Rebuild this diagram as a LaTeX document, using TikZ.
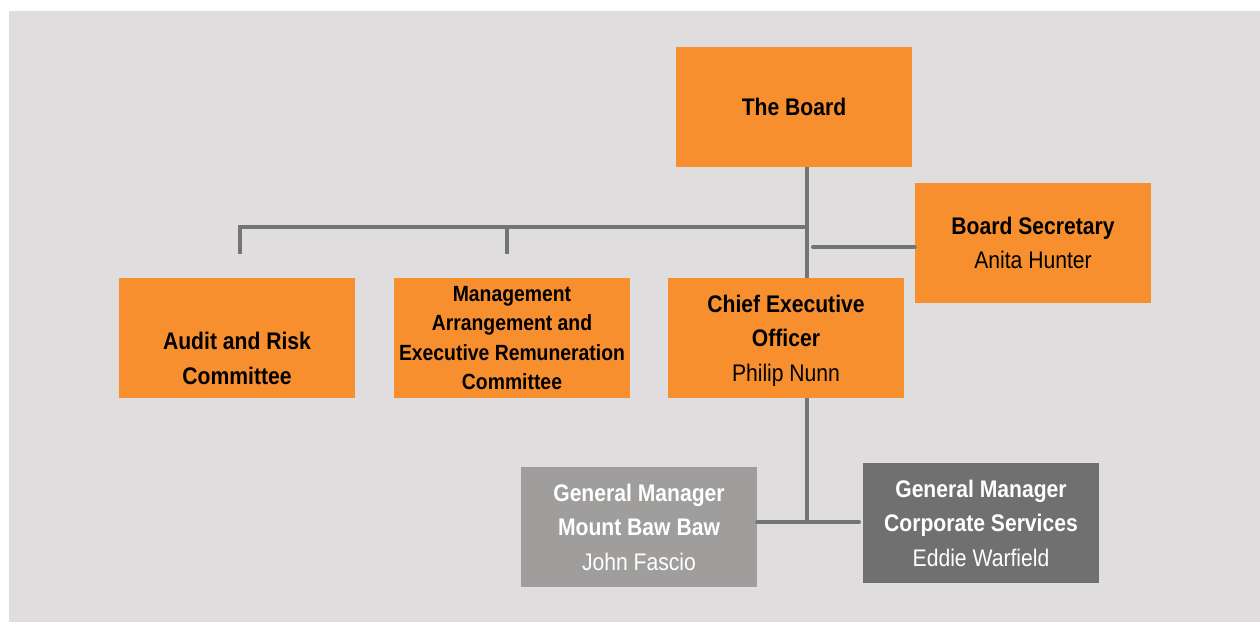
\documentclass[tikz,border=0pt]{standalone}
\usepackage{fontspec}
\setmainfont{Liberation Sans}[FakeStretch=0.88]
\definecolor{bgc}{HTML}{DFDDDE}
\definecolor{org}{HTML}{F78F2E}
\definecolor{lnc}{HTML}{747474}
\definecolor{gmA}{HTML}{9F9E9D}
\definecolor{gmB}{HTML}{717070}
\begin{document}
\begin{tikzpicture}[x=1pt,y=-1pt,
  box/.style={rectangle,inner sep=0pt,minimum width=236pt,minimum height=120pt,align=center},
  obox/.style={box,fill=org,text=black},
  big/.style={font=\fontsize{24}{34.5}\selectfont},
  small/.style={font=\fontsize{22}{29.3}\selectfont},
  conn/.style={draw=lnc,line width=4pt}]
\useasboundingbox (0,0) rectangle (1260,622);
\fill[bgc] (9,11) rectangle (1260,622);

\node[obox,big] (board) at (794,107) {\bfseries The Board};
\node[obox,big] (sec) at (1033,243) {\bfseries Board Secretary\\Anita Hunter};
\node[obox,big] (audit) at (237,338) {\strut\\\bfseries Audit and Risk\\\bfseries Committee};
\node[obox,small] (mgmt) at (512,338) {\bfseries Management\\\bfseries Arrangement and\\\bfseries Executive Remuneration\\\bfseries Committee};
\node[obox,big,text depth=0pt] (ceo) at (786,338) {\bfseries Chief Executive\\\bfseries Officer\\Philip Nunn};
\node[box,big,fill=gmA,text=white] (gm1) at (639,527) {\bfseries General Manager\\\bfseries Mount Baw Baw\\John Fascio};
\node[box,big,fill=gmB,text=white] (gm2) at (981,523) {\bfseries General Manager\\\bfseries Corporate Services\\Eddie Warfield};

\coordinate (j1) at (807,227);
\coordinate (d1) at (240,254);
\coordinate (d2) at (507,254);
\coordinate (js) at (813,247);
\coordinate (j2) at (807,522);
\coordinate (jr) at (859,522);

\draw[conn] (board.south -| j1) -- (ceo.north -| j1);
\draw[conn] (j1) -- (d1 |- j1) -- (d1);
\draw[conn] (d2 |- j1) -- (d2);
\draw[conn,line cap=round] (js) -- (sec.west |- js);
\draw[conn] (ceo.south -| j2) -- (j2);
\draw[conn,line cap=round] (gm1.east |- j2) -- (jr);
\end{tikzpicture}
\end{document}
